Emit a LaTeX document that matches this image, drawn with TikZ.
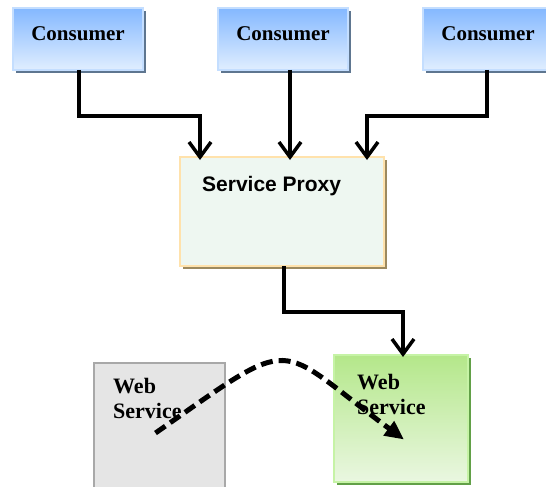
\documentclass[tikz,border=0pt]{standalone}
\usepackage{fontspec}
\setmainfont{Liberation Serif}
\setsansfont{Liberation Sans}
\usetikzlibrary{positioning,shadows,arrows.meta}

\definecolor{consumertop}{HTML}{84B8FF}
\definecolor{consumerbot}{HTML}{E0EEFF}
\definecolor{consumerline}{HTML}{C4DEFF}
\definecolor{consumershade}{HTML}{5E7690}
\definecolor{proxyfill}{HTML}{EEF7F1}
\definecolor{proxyline}{HTML}{FFE2AC}
\definecolor{proxyshade}{HTML}{9C8A60}
\definecolor{oldfill}{HTML}{E5E5E5}
\definecolor{oldline}{HTML}{A8A8A8}
\definecolor{newtop}{HTML}{B4E78A}
\definecolor{newbot}{HTML}{EAF7E1}
\definecolor{newline}{HTML}{C6F3A6}
\definecolor{newshade}{HTML}{62A048}

\tikzstyle{consumer}=[draw=consumerline,line width=1.5pt,top color=consumertop,bottom color=consumerbot,rectangle,minimum width=130pt,minimum height=62pt,inner sep=0pt,outer sep=0pt,text height=14pt,text depth=10pt,font=\fontsize{21}{25}\selectfont\bfseries,drop shadow={shadow xshift=3pt,shadow yshift=-3pt,fill=consumershade,opacity=1}]
\tikzstyle{proxy}=[draw=proxyline,line width=1.5pt,fill=proxyfill,rectangle,minimum width=204pt,minimum height=109pt,inner sep=0pt,outer sep=0pt,drop shadow={shadow xshift=3pt,shadow yshift=-3pt,fill=proxyshade,opacity=1}]
\tikzstyle{oldservice}=[draw=oldline,line width=1.5pt,fill=oldfill,rectangle,minimum width=131pt,minimum height=140pt,inner sep=0pt,outer sep=0pt]
\tikzstyle{newservice}=[draw=newline,line width=1.5pt,top color=newtop,bottom color=newbot,rectangle,minimum width=134pt,minimum height=127pt,inner sep=0pt,outer sep=0pt,drop shadow={shadow xshift=3pt,shadow yshift=-3pt,fill=newshade,opacity=1}]
\tikzstyle{caption}=[inner sep=0pt,align=left,font=\fontsize{22}{25.5}\selectfont\bfseries]
\tikzstyle{link}=[line width=3.5pt,-{Straight Barb[length=15pt,width=22pt]}]
\tikzstyle{flow}=[line width=5pt,dash pattern=on 12pt off 6pt,-{Triangle[length=19pt,width=17pt]}]

\begin{document}
\begin{tikzpicture}[x=1pt,y=-1pt]
\useasboundingbox (0,0) rectangle (546,487);

% consumers
\node[consumer] (consumer-1) at (78,39) {Consumer};
\node[consumer] (consumer-2) at (283,39) {Consumer};
\node[consumer] (consumer-3) at (488,39) {Consumer};

% proxy
\node[proxy] (proxy) at (282,211.5) {};
\node[caption,font=\fontsize{21}{25}\selectfont\sffamily\bfseries,below right=19pt and 22pt of proxy.north west] (proxy-text) {Service Proxy};

% old and new service
\node[oldservice] (web-old) at (159.5,433) {};
\node[caption,below right=15pt and 19pt of web-old.north west] (web-old-text) {Web\\Service};
\node[newservice] (web-new) at (401,418.5) {};
\node[caption,below right=19pt and 23pt of web-new.north west] (web-new-text) {Web\\Service};

% consumers to proxy
\draw[link] ([xshift=1pt]consumer-1.south) -- ++(0,46) -| ([xshift=-82pt,yshift=-3pt]proxy.north);
\draw[link] ([xshift=7pt]consumer-2.south) -- ([xshift=8pt,yshift=-3pt]proxy.north);
\draw[link] ([xshift=-1pt]consumer-3.south) -- ++(0,46) -| ([xshift=85pt,yshift=-3pt]proxy.north);

% proxy to service
\draw[link] ([xshift=2pt]proxy.south) -- ++(0,46) -| ([xshift=2pt,yshift=-2pt]web-new.north);

% moving the service
\draw[flow] ([xshift=-4pt]web-old.center) .. controls (300,332) and (272,342) .. ([xshift=3pt,yshift=-21pt]web-new.center);

\end{tikzpicture}
\end{document}
